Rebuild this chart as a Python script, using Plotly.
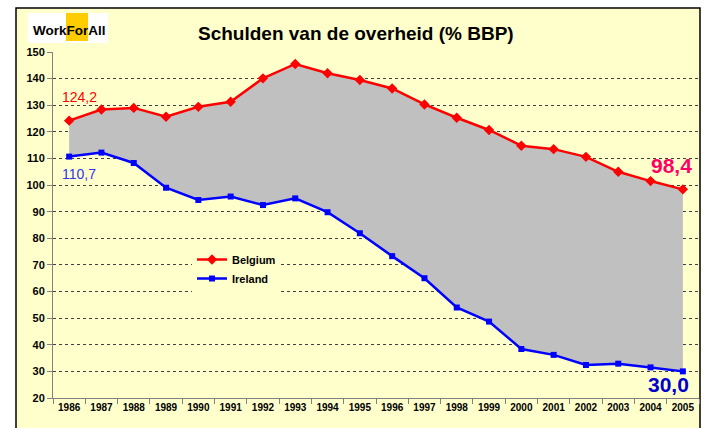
import plotly.graph_objects as go

years = [str(y) for y in range(1986, 2006)]
belgium = [124.2, 128.4, 129.0, 125.7, 129.4, 131.3, 140.1, 145.5, 142.0, 139.5,
           136.3, 130.3, 125.3, 120.7, 114.8, 113.5, 110.6, 105.0, 101.5, 98.4]
ireland = [110.7, 112.2, 108.3, 99.0, 94.4, 95.7, 92.5, 95.0, 89.8, 81.9,
           73.3, 65.0, 54.0, 48.7, 38.4, 36.2, 32.4, 32.9, 31.5, 30.0]
title_text = "Schulden van de overheid (% BBP)"

W, H = 709, 428
L, R, T, B = 53, 10, 52, 30
PW, PH = W - L - R, H - T - B

def px(x):
    return (x - L) / PW

def py(y):
    return (H - B - y) / PH

FONT = "Liberation Sans, Arial, sans-serif"
BG = "#FFFFCC"

fig = go.Figure()
# grey band between the two series
fig.add_trace(go.Scatter(x=years, y=ireland, mode="lines", line=dict(width=0),
                         showlegend=False, hoverinfo="skip"))
fig.add_trace(go.Scatter(x=years, y=belgium, mode="lines", line=dict(width=0),
                         fill="tonexty", fillcolor="#C0C0C0",
                         showlegend=False, hoverinfo="skip"))
fig.add_trace(go.Scatter(x=years, y=belgium, name="Belgium", mode="lines+markers",
                         line=dict(color="#FF0000", width=2.5),
                         marker=dict(symbol="diamond", size=8, color="#FF0000")))
fig.add_trace(go.Scatter(x=years, y=ireland, name="Ireland", mode="lines+markers",
                         line=dict(color="#0000FF", width=2.5),
                         marker=dict(symbol="square", size=6, color="#0000FF")))

shapes = [
    dict(type="rect", xref="paper", yref="paper", layer="below",
         x0=px(16), x1=px(700), y0=py(440), y1=py(8),
         fillcolor=BG, line=dict(color="black", width=1.5)),
    dict(type="rect", xref="paper", yref="paper", layer="above",
         x0=px(28), x1=px(108), y0=py(43), y1=py(13),
         fillcolor="white", line=dict(width=0)),
    dict(type="rect", xref="paper", yref="paper", layer="above",
         x0=px(66), x1=px(88), y0=py(41), y1=py(13),
         fillcolor="#FFCC00", line=dict(width=0)),
]

annotations = [
    dict(text="WorkForAll", x=px(69), y=py(30), xref="paper", yref="paper",
         showarrow=False, font=dict(family=FONT, size=13.5, color="black", weight="bold"),
         xanchor="center", yanchor="middle"),
    dict(text=title_text, x=px(356), y=py(33), xref="paper", yref="paper",
         showarrow=False, font=dict(family=FONT, size=19, color="black", weight="bold"),
         xanchor="center", yanchor="middle"),
    dict(text="124,2", x=px(60), y=py(97), xref="paper", yref="paper",
         showarrow=False, font=dict(family=FONT, size=14, color="#FF0000"),
         xanchor="left", yanchor="middle"),
    dict(text="110,7", x=px(60), y=py(174), xref="paper", yref="paper",
         showarrow=False, font=dict(family=FONT, size=14, color="#3333EE"),
         xanchor="left", yanchor="middle"),
    dict(text="98,4", x=px(694), y=py(165), xref="paper", yref="paper",
         showarrow=False, font=dict(family=FONT, size=21, color="#FF0066", weight="bold"),
         xanchor="right", yanchor="middle"),
    dict(text="30,0", x=px(691), y=py(384), xref="paper", yref="paper",
         showarrow=False, font=dict(family=FONT, size=21, color="#0000CC", weight="bold"),
         xanchor="right", yanchor="middle"),
]

fig.update_layout(
    width=W, height=H,
    margin=dict(l=L, r=R, t=T, b=B, pad=0),
    paper_bgcolor="white", plot_bgcolor=BG,
    font=dict(family=FONT, color="black"),
    shapes=shapes, annotations=annotations,
    legend=dict(x=px(192), y=py(245), xanchor="left", yanchor="top",
                bgcolor=BG, font=dict(family=FONT, size=11, color="black", weight="bold"),
                tracegroupgap=0, itemwidth=30, traceorder="normal"),
    showlegend=True,
)
fig.update_xaxes(type="category", tickson="boundaries", ticks="outside", ticklen=5,
                 tickcolor="#808080", showline=True, linecolor="#808080", linewidth=1,
                 showgrid=False, tickfont=dict(family=FONT, size=10, color="black", weight="bold"),
                 range=[-0.5, 19.5])
fig.update_yaxes(range=[20, 150], dtick=10, tick0=20, ticks="outside", ticklen=5,
                 tickcolor="#808080", showline=True, linecolor="#808080", linewidth=1,
                 showgrid=True, gridcolor="#404040", gridwidth=1, griddash="dot",
                 zeroline=False,
                 tickfont=dict(family=FONT, size=11, color="black", weight="bold"))

fig.write_html("out.html", config={"displayModeBar": False},
               post_script="document.body.style.margin='0';document.body.style.overflow='hidden';")
